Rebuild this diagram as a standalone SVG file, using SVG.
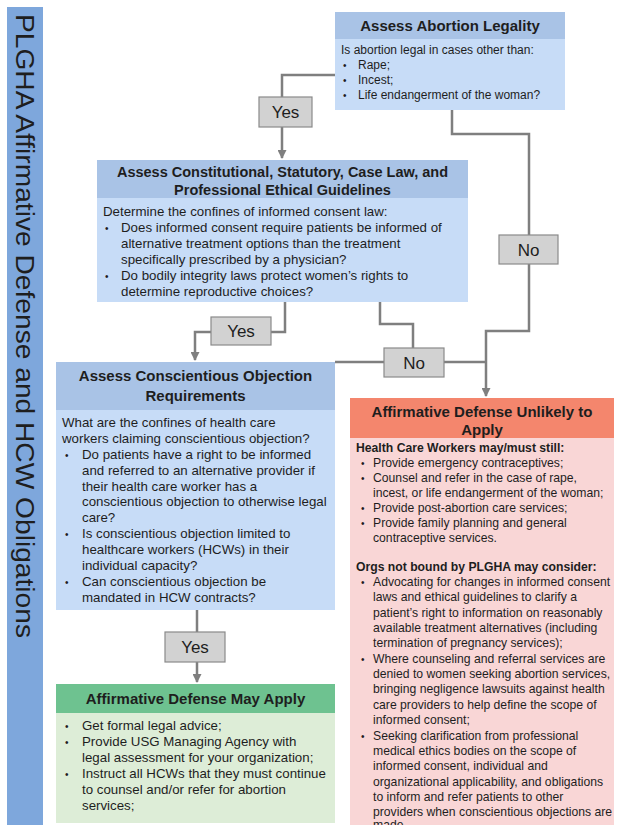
<svg xmlns="http://www.w3.org/2000/svg" width="618" height="825" viewBox="0 0 618 825">
  <defs>
    <marker id="arrow" viewBox="0 0 10 10" refX="9" refY="5" markerWidth="10" markerHeight="9" markerUnits="userSpaceOnUse" orient="auto">
      <path d="M0,0 L10,5 L0,10 z" fill="#7f7f7f"/>
    </marker>
    <style>
      text { font-family: "Liberation Sans", Arial, sans-serif; fill: #1e1e1e; }
      .hd { font-weight: bold; font-size: 15px; text-anchor: middle; }
      .b12 { font-size: 12px; }
      .b13 { font-size: 13.3px; }
      .r12 { font-size: 12.2px; }
      .bold { font-weight: bold; }
      .dot { font-size: 10px; }
      .lbl { font-size: 17px; text-anchor: middle; }
      .wire { fill: none; stroke: #7f7f7f; stroke-width: 2.5; }
      .tag { fill: #d2d2d2; stroke: #8a8a8a; stroke-width: 1.2; }
      .blueHead { fill: #a9c3e6; }
      .blueBody { fill: #c7dcf7; }
      .redHead { fill: #f4866d; }
      .redBody { fill: #f9d6d6; }
      .greenHead { fill: #6ec290; }
      .greenBody { fill: #ddedd7; }
    </style>
  </defs>

  <rect width="618" height="825" fill="#ffffff"/>

  <!-- vertical title band -->
  <g id="title">
    <rect x="7" y="7" width="36" height="818" fill="#7ea7dc"/>
    <text transform="translate(16,14) rotate(90)" style="font-size:26px" textLength="624" lengthAdjust="spacingAndGlyphs">PLGHA Affirmative Defense and HCW Obligations</text>
  </g>

  <!-- connectors -->
  <g id="connectors">
    <path class="wire" d="M335,75 H282 V158" marker-end="url(#arrow)"/>
    <path class="wire" d="M452,110 V134 H529 V331 H486 V396" marker-end="url(#arrow)"/>
    <path class="wire" d="M285,302 V332 H195 V360" marker-end="url(#arrow)"/>
    <path class="wire" d="M380,302 V324 H413 V362"/>
    <path class="wire" d="M335,362 H486"/>
    <path class="wire" d="M197,610 V682" marker-end="url(#arrow)"/>
  </g>

  <!-- decision labels -->
  <g id="label-yes-1">
    <rect class="tag" x="259" y="97" width="53" height="30"/>
    <text class="lbl" x="285.5" y="118">Yes</text>
  </g>
  <g id="label-no-1">
    <rect class="tag" x="499" y="235" width="59" height="29"/>
    <text class="lbl" x="528.5" y="256">No</text>
  </g>
  <g id="label-yes-2">
    <rect class="tag" x="211" y="317" width="60" height="28"/>
    <text class="lbl" x="241" y="337">Yes</text>
  </g>
  <g id="label-no-2">
    <rect class="tag" x="384" y="348" width="60" height="29"/>
    <text class="lbl" x="414" y="369">No</text>
  </g>
  <g id="label-yes-3">
    <rect class="tag" x="165" y="632" width="60" height="30"/>
    <text class="lbl" x="195" y="653">Yes</text>
  </g>

  <!-- Assess Abortion Legality -->
  <g id="node-legality">
    <rect class="blueBody" x="335" y="12" width="230" height="98"/>
    <rect class="blueHead" x="335" y="12" width="230" height="27"/>
    <text class="hd" x="450" y="31">Assess Abortion Legality</text>
    <text class="b12" x="341" y="54">Is abortion legal in cases other than:</text>
    <text class="dot" x="343" y="69">•</text><text class="b12" x="358" y="69">Rape;</text>
    <text class="dot" x="343" y="84">•</text><text class="b12" x="358" y="84">Incest;</text>
    <text class="dot" x="343" y="99">•</text><text class="b12" x="358" y="99">Life endangerment of the woman?</text>
  </g>

  <!-- Assess Constitutional, Statutory, Case Law... -->
  <g id="node-constitutional">
    <rect class="blueBody" x="97" y="160" width="371" height="142"/>
    <rect class="blueHead" x="97" y="160" width="371" height="38"/>
    <text class="hd" x="282.5" y="177" style="font-size:14.5px">Assess Constitutional, Statutory, Case Law, and</text>
    <text class="hd" x="282.5" y="195" style="font-size:14.5px">Professional Ethical Guidelines</text>
    <text class="b13" x="103" y="216">Determine the confines of informed consent law:</text>
    <text class="dot" x="105" y="232">•</text><text class="b13" x="121" y="232">Does informed consent require patients be informed of</text>
    <text class="b13" x="121" y="248">alternative treatment options than the treatment</text>
    <text class="b13" x="121" y="264">specifically prescribed by a physician?</text>
    <text class="dot" x="105" y="280">•</text><text class="b13" x="121" y="280">Do bodily integrity laws protect women’s rights to</text>
    <text class="b13" x="121" y="296">determine reproductive choices?</text>
  </g>

  <!-- Assess Conscientious Objection Requirements -->
  <g id="node-conscientious">
    <rect class="blueBody" x="56" y="362" width="279" height="248"/>
    <rect class="blueHead" x="56" y="362" width="279" height="48"/>
    <text class="hd" x="195.5" y="381">Assess Conscientious Objection</text>
    <text class="hd" x="195.5" y="401">Requirements</text>
    <text class="b13" x="62" y="427">What are the confines of health care</text>
    <text class="b13" x="62" y="443">workers claiming conscientious objection?</text>
    <text class="dot" x="65" y="459">•</text><text class="b13" x="82" y="459">Do patients have a right to be informed</text>
    <text class="b13" x="82" y="475">and referred to an alternative provider if</text>
    <text class="b13" x="82" y="491">their health care worker has a</text>
    <text class="b13" x="82" y="506">conscientious objection to otherwise legal</text>
    <text class="b13" x="82" y="522">care?</text>
    <text class="dot" x="65" y="538">•</text><text class="b13" x="82" y="538">Is conscientious objection limited to</text>
    <text class="b13" x="82" y="554">healthcare workers (HCWs) in their</text>
    <text class="b13" x="82" y="570">individual capacity?</text>
    <text class="dot" x="65" y="586">•</text><text class="b13" x="82" y="586">Can conscientious objection be</text>
    <text class="b13" x="82" y="602">mandated in HCW contracts?</text>
  </g>

  <!-- Affirmative Defense May Apply -->
  <g id="node-may-apply">
    <rect class="greenBody" x="56" y="684" width="279" height="139"/>
    <rect class="greenHead" x="56" y="684" width="279" height="29"/>
    <text class="hd" x="195.5" y="704">Affirmative Defense May Apply</text>
    <text class="dot" x="65" y="730">•</text><text class="b13" x="82" y="730">Get formal legal advice;</text>
    <text class="dot" x="65" y="746">•</text><text class="b13" x="82" y="746">Provide USG Managing Agency with</text>
    <text class="b13" x="82" y="762">legal assessment for your organization;</text>
    <text class="dot" x="65" y="778">•</text><text class="b13" x="82" y="778">Instruct all HCWs that they must continue</text>
    <text class="b13" x="82" y="794">to counsel and/or refer for abortion</text>
    <text class="b13" x="82" y="810">services;</text>
  </g>

  <!-- Affirmative Defense Unlikely to Apply -->
  <g id="node-unlikely">
    <rect class="redBody" x="350" y="398" width="264" height="427"/>
    <rect class="redHead" x="350" y="398" width="264" height="40"/>
    <text class="hd" x="482" y="417">Affirmative Defense Unlikely to</text>
    <text class="hd" x="482" y="435">Apply</text>
    <text class="r12 bold" x="356" y="452">Health Care Workers may/must still:</text>
    <text class="dot" x="361" y="467">•</text><text class="r12" x="373" y="467">Provide emergency contraceptives;</text>
    <text class="dot" x="361" y="482">•</text><text class="r12" x="373" y="482">Counsel and refer in the case of rape,</text>
    <text class="r12" x="373" y="497">incest, or life endangerment of the woman;</text>
    <text class="dot" x="361" y="512">•</text><text class="r12" x="373" y="512">Provide post-abortion care services;</text>
    <text class="dot" x="361" y="527">•</text><text class="r12" x="373" y="527">Provide family planning and general</text>
    <text class="r12" x="373" y="542">contraceptive services.</text>
    <text class="r12 bold" x="356" y="571">Orgs not bound by PLGHA may consider:</text>
    <text class="dot" x="361" y="586">•</text><text class="r12" x="373" y="586">Advocating for changes in informed consent</text>
    <text class="r12" x="373" y="601">laws and ethical guidelines to clarify a</text>
    <text class="r12" x="373" y="617">patient’s right to information on reasonably</text>
    <text class="r12" x="373" y="632">available treatment alternatives (including</text>
    <text class="r12" x="373" y="647">termination of pregnancy services);</text>
    <text class="dot" x="361" y="663">•</text><text class="r12" x="373" y="663">Where counseling and referral services are</text>
    <text class="r12" x="373" y="678">denied to women seeking abortion services,</text>
    <text class="r12" x="373" y="693">bringing negligence lawsuits against health</text>
    <text class="r12" x="373" y="709">care providers to help define the scope of</text>
    <text class="r12" x="373" y="724">informed consent;</text>
    <text class="dot" x="361" y="740">•</text><text class="r12" x="373" y="740">Seeking clarification from professional</text>
    <text class="r12" x="373" y="755">medical ethics bodies on the scope of</text>
    <text class="r12" x="373" y="770">informed consent, individual and</text>
    <text class="r12" x="373" y="786">organizational applicability, and obligations</text>
    <text class="r12" x="373" y="801">to inform and refer patients to other</text>
    <text class="r12" x="373" y="816">providers when conscientious objections are</text>
    <text class="r12" x="373" y="829">made.</text>
  </g>
</svg>
